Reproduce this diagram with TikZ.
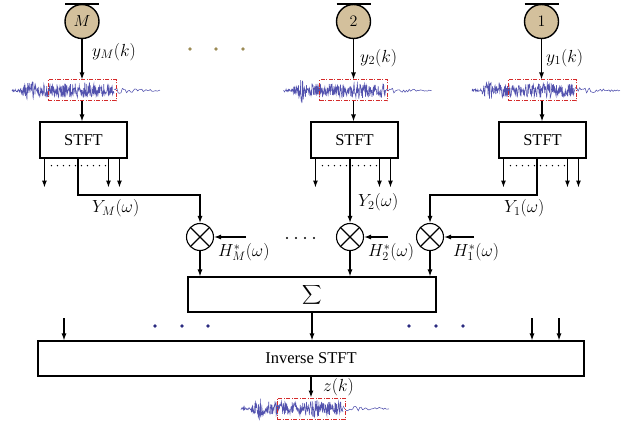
\RequirePackage{fix-cm}
\documentclass[tikz,border=0pt]{standalone}
\usepackage{fontspec}
\usepackage{graphicx}
\setmainfont{Liberation Serif}
\usetikzlibrary{arrows.meta,calc}
\definecolor{mictan}{HTML}{D3C09C}
\definecolor{wavec}{HTML}{5252AE}
\definecolor{dashred}{HTML}{D42A2A}
\definecolor{dotolive}{HTML}{9C8B55}
\definecolor{dotnavy}{HTML}{2A2A80}
\begin{document}
\begin{tikzpicture}[x=1pt,y=-1pt,
  >={Latex[length=7pt,width=5pt]},
  conn/.style={line width=1.2pt,->},
  mic/.style={circle,draw,line width=1.4pt,fill=mictan,minimum size=34pt,inner sep=0pt,font=\fontsize{16}{18}\selectfont},
  win/.style={draw=dashred,dash pattern=on 4pt off 1.5pt on 1pt off 1.5pt,line width=1pt,minimum width=68pt,minimum height=21pt,inner sep=0pt},
  stftbox/.style={draw,line width=1.1pt,minimum width=87pt,minimum height=36pt,inner sep=0pt,font=\fontsize{16.5}{18}\selectfont},
  widebox/.style={draw,line width=1.1pt,minimum height=35pt,inner sep=0pt,font=\fontsize{16.5}{18}\selectfont},
  mult/.style={circle,draw,line width=1.1pt,minimum size=27pt,inner sep=0pt,
    path picture={\draw[line width=1.1pt] (path picture bounding box.center) ++(45:13.5pt) -- ++(225:27pt)
      (path picture bounding box.center) ++(135:13.5pt) -- ++(-45:27pt);}},
  lab/.style={font=\fontsize{17.5}{20}\selectfont,inner sep=0pt,anchor=west},
  dotstyle/.style={fill=#1,draw=none},
  wave/.pic={
    \draw[wavec,line width=0.55pt] plot[domain=-70:32,samples=280] (\x,{env(\x)*rand});
    \draw[wavec,line width=0.55pt] plot[smooth,domain=32:78,samples=34] (\x,{(0.6+2.6*(78-\x)/46)*rand});
  },
  declare function={env(\t)=1.4+10*max(0,1-abs(\t+52)/10)+5.5*(\t>-44)*(\t<32)+3*max(0,1-abs(\t-5)/5);}
]
\useasboundingbox (0,0) rectangle (628,425);
\pgfmathsetseed{7}

% microphones
\node[mic] (mM) at (82,21.5) {$M$};
\node[mic] (m2) at (353.5,21.5) {$2$};
\node[mic] (m1) at (541.5,21.5) {$1$};
\foreach \m in {mM,m2,m1}
  \draw[line width=2.4pt] ($(\m.north)+(-17,0)$) -- ($(\m.north)+(17,0)$);

% olive dots
\foreach \xx in {190,216,243} \fill[dotstyle=dotolive] (\xx,49) circle (1.8pt);

% waveforms
\pic at (82,90.5) {wave};
\pic at (353.5,90.5) {wave};
\pic at (542,90.5) {wave};
\pic at (311,408.5) {wave};
\node[win] (wM) at (82,90.5) {};
\node[win] (w2) at (353.5,90.5) {};
\node[win] (w1) at (542,90.5) {};
\node[win] (wo) at (311,408.5) {};

% STFT boxes
\node[stftbox] (sM) at (83.5,140) {STFT};
\node[stftbox] (s2) at (354.5,140) {STFT};
\node[stftbox] (s1) at (542.5,140) {STFT};

% mic -> window -> STFT
\foreach \m/\w/\s in {mM/wM/sM,m2/w2/s2,m1/w1/s1}{
  \draw[conn] (\m.south) -- (\m.south |- \w.north);
  \draw[conn] (\w.south) -- (\w.south |- \s.north);
  \foreach \o in {5,69,80}
    \draw[conn] ([xshift=\o pt]\s.south west) -- ++(0,29);
  \draw[line width=1.5pt,line cap=round,dash pattern=on 0pt off 6pt] ([xshift=12pt,yshift=-7pt]\s.south west) -- ([xshift=66pt,yshift=-7pt]\s.south west);
}

% multipliers
\node[mult] (mulM) at (200,237) {};
\node[mult] (mul2) at (350,237) {};
\node[mult] (mul1) at (430,237) {};
\foreach \xx in {287,296,305,314} \fill (\xx,238) circle (1.1pt);

\draw[conn] ([xshift=-5.5pt]sM.south) |- (mulM.north |- 0,195) -- (mulM.north);
\draw[conn] ([xshift=-4.5pt]s2.south) -- (mul2.north);
\draw[conn] ([xshift=-5.5pt]s1.south) |- (mul1.north |- 0,195) -- (mul1.north);

\draw[conn] ($(mulM.east)+(32,0)$) -- (mulM.east);
\draw[conn] ($(mul2.east)+(24,0)$) -- (mul2.east);
\draw[conn] ($(mul1.east)+(30,0)$) -- (mul1.east);

% sum and inverse STFT
\node[widebox,minimum width=248pt] (sum) at (312,294.5) {\scalebox{1.35}{$\displaystyle\sum$}};
\node[widebox,minimum width=546pt] (istft) at (311,358.5) {Inverse STFT};
\foreach \mm in {mulM,mul2,mul1}
  \draw[conn] (\mm.south) -- (\mm.south |- sum.north);
\draw[conn] (sum.south) -- (sum.south |- istft.north);

\coordinate (i1) at (64,318);
\coordinate (i2) at (532,318);
\coordinate (i3) at (559,318);
\foreach \c in {i1,i2,i3} \draw[conn] (\c) -- (\c |- istft.north);
\foreach \xx in {155,182,208,409,436,463} \fill[dotstyle=dotnavy] (\xx,326) circle (1.8pt);

\draw[conn] (istft.south) -- (wo.north);

% labels
\node[lab] (lyM) at (92,52) {$y_M(k)$};
\node[lab] (ly2) at (360,58) {$y_2(k)$};
\node[lab] (ly1) at (546,58) {$y_1(k)$};
\node[lab] (lYM) at (92,208) {$Y_M(\omega)$};
\node[lab] (lY2) at (358,202) {$Y_2(\omega)$};
\node[lab] (lY1) at (504,208) {$Y_1(\omega)$};
\node[lab] (lHM) at (218,252) {$H^{*}_{M}(\omega)$};
\node[lab] (lH2) at (368,252) {$H^{*}_{2}(\omega)$};
\node[lab] (lH1) at (453,252) {$H^{*}_{1}(\omega)$};
\node[lab] (lz) at (323,387) {$z(k)$};
\end{tikzpicture}
\end{document}
